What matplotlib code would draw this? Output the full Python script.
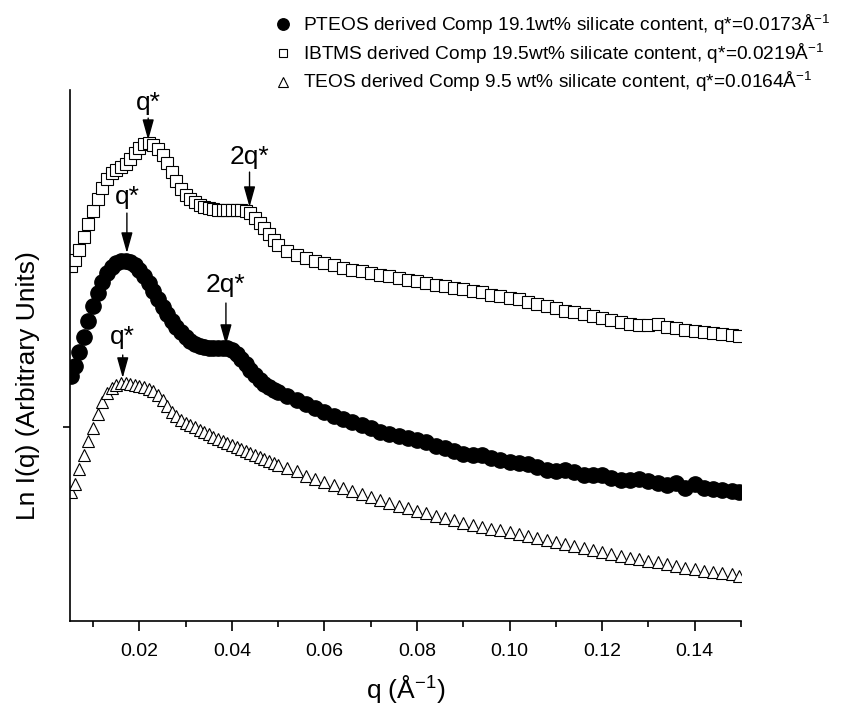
import numpy as np
import matplotlib
matplotlib.use('Agg')
import matplotlib.pyplot as plt

plt.rcParams['font.family'] = ['Liberation Sans', 'DejaVu Sans']
plt.rcParams['mathtext.default'] = 'regular'

# q values (1/A) at which the curves were read
q = [0.0052, 0.006, 0.007, 0.008, 0.009, 0.010, 0.011, 0.012, 0.013, 0.014,
     0.015, 0.016, 0.017, 0.018, 0.019, 0.020, 0.021, 0.022, 0.023, 0.024,
     0.025, 0.026, 0.027, 0.028, 0.029, 0.030, 0.031, 0.032, 0.033, 0.034,
     0.035, 0.036, 0.037, 0.038, 0.039, 0.040, 0.041, 0.042, 0.043, 0.044,
     0.045, 0.046, 0.047, 0.048, 0.049, 0.050,
     0.052, 0.054, 0.056, 0.058, 0.060, 0.062, 0.064, 0.066, 0.068, 0.070,
     0.072, 0.074, 0.076, 0.078, 0.080, 0.082, 0.084, 0.086, 0.088, 0.090,
     0.092, 0.094, 0.096, 0.098, 0.100, 0.102, 0.104, 0.106, 0.108, 0.110,
     0.112, 0.114, 0.116, 0.118, 0.120, 0.122, 0.124, 0.126, 0.128, 0.130,
     0.132, 0.134, 0.136, 0.138, 0.140, 0.142, 0.144, 0.146, 0.148, 0.1495]

# Ln I(q), arbitrary units (curves shifted vertically)
ibtms = [3.55, 3.61, 3.71, 3.84, 3.97, 4.10, 4.22, 4.33, 4.42, 4.48,
         4.51, 4.54, 4.57, 4.62, 4.68, 4.73, 4.77, 4.78, 4.76, 4.72,
         4.66, 4.58, 4.49, 4.40, 4.32, 4.26, 4.22, 4.19, 4.16, 4.14,
         4.13, 4.12, 4.11, 4.11, 4.11, 4.11, 4.11, 4.11, 4.10, 4.08,
         4.03, 3.98, 3.93, 3.87, 3.81, 3.76,
         3.70, 3.66, 3.63, 3.60, 3.58, 3.56, 3.53, 3.51, 3.50, 3.48,
         3.46, 3.45, 3.43, 3.41, 3.40, 3.38, 3.36, 3.35, 3.33, 3.32,
         3.30, 3.29, 3.26, 3.25, 3.23, 3.22, 3.19, 3.17, 3.15, 3.13,
         3.10, 3.09, 3.07, 3.05, 3.03, 3.01, 2.99, 2.97, 2.96, 2.96,
         2.97, 2.94, 2.93, 2.91, 2.90, 2.89, 2.88, 2.87, 2.86, 2.85]

pteos = [2.45, 2.55, 2.69, 2.84, 3.00, 3.15, 3.28, 3.39, 3.48, 3.54,
         3.58, 3.60, 3.60, 3.59, 3.56, 3.51, 3.45, 3.38, 3.30, 3.22,
         3.14, 3.07, 3.00, 2.94, 2.89, 2.84, 2.80, 2.77, 2.75, 2.74,
         2.73, 2.73, 2.73, 2.73, 2.73, 2.71, 2.67, 2.62, 2.57, 2.51,
         2.46, 2.41, 2.37, 2.34, 2.31, 2.29,
         2.25, 2.21, 2.17, 2.13, 2.09, 2.05, 2.02, 1.99, 1.96, 1.93,
         1.89, 1.87, 1.85, 1.83, 1.81, 1.79, 1.75, 1.73, 1.70, 1.67,
         1.66, 1.66, 1.63, 1.61, 1.59, 1.58, 1.57, 1.54, 1.51, 1.50,
         1.51, 1.49, 1.46, 1.46, 1.46, 1.43, 1.41, 1.41, 1.42, 1.40,
         1.38, 1.36, 1.38, 1.33, 1.37, 1.33, 1.32, 1.31, 1.30, 1.29]

teos = [1.29, 1.37, 1.52, 1.66, 1.80, 1.93, 2.07, 2.19, 2.28, 2.33,
        2.36, 2.38, 2.38, 2.37, 2.36, 2.35, 2.34, 2.32, 2.30, 2.26,
        2.21, 2.15, 2.09, 2.05, 2.01, 1.98, 1.96, 1.94, 1.91, 1.89,
        1.87, 1.84, 1.82, 1.80, 1.78, 1.76, 1.74, 1.72, 1.70, 1.68,
        1.66, 1.64, 1.62, 1.60, 1.58, 1.56,
        1.53, 1.50, 1.45, 1.42, 1.39, 1.36, 1.33, 1.30, 1.27, 1.24,
        1.21, 1.18, 1.15, 1.13, 1.10, 1.08, 1.05, 1.03, 1.01, 0.98,
        0.96, 0.94, 0.92, 0.91, 0.89, 0.87, 0.85, 0.83, 0.81, 0.79,
        0.77, 0.75, 0.73, 0.71, 0.69, 0.67, 0.65, 0.63, 0.62, 0.60,
        0.59, 0.57, 0.55, 0.53, 0.52, 0.50, 0.49, 0.48, 0.47, 0.45]

labels = ['PTEOS derived Comp 19.1wt% silicate content, q*=0.0173\u00c5$^{-1}$',
          'IBTMS derived Comp 19.5wt% silicate content, q*=0.0219\u00c5$^{-1}$',
          'TEOS derived Comp 9.5 wt% silicate content, q*=0.0164\u00c5$^{-1}$']

# peak annotations: (label, q position, tip value, tail value, text value)
peaks = [('q*', 0.0219, 4.81, 5.03, 5.18),
         ('2q*', 0.0438, 4.14, 4.49, 4.64),
         ('q*', 0.0173, 3.68, 4.08, 4.24),
         ('2q*', 0.0387, 2.76, 3.18, 3.36),
         ('q*', 0.0164, 2.43, 2.66, 2.84)]

fig = plt.figure(figsize=(8.43, 7.04), dpi=100)
ax = fig.add_axes([0.083, 0.118, 0.796, 0.754])

h1, = ax.plot(q, pteos, 'o', color='black', markersize=11, mec='black', ls='none')
h2, = ax.plot(q, ibtms, 's', mfc='white', mec='black', markersize=8.5, mew=0.8, ls='none')
h3, = ax.plot(q, teos, '^', mfc='white', mec='black', markersize=9, mew=0.8, ls='none')

for lab, xq, tip, tail, ty in peaks:
    ax.annotate('', xy=(xq, tip), xytext=(xq, tail),
                arrowprops=dict(arrowstyle='-|>,head_length=0.9,head_width=0.25',
                                color='black', lw=1.0,
                                mutation_scale=14, shrinkA=0, shrinkB=0))
    ax.text(xq, ty, lab, ha='center', va='center', fontsize=19)

ax.set_xlim(0.005, 0.15)
ax.set_ylim(0, 5.31)
ax.set_xticks([0.02, 0.04, 0.06, 0.08, 0.10, 0.12, 0.14])
ax.set_xticks(np.arange(0.01, 0.151, 0.02), minor=True)
ax.set_xticklabels(['0.02', '0.04', '0.06', '0.08', '0.10', '0.12', '0.14'])
ax.set_yticks([1.94])
ax.set_yticklabels([])
ax.tick_params(axis='x', which='major', direction='out', length=7, width=1.2, labelsize=14, pad=9)
ax.tick_params(axis='x', which='minor', direction='out', length=4, width=1.2)
ax.tick_params(axis='y', direction='out', length=5, width=1.2)
for s in ['top', 'right']:
    ax.spines[s].set_visible(False)
for s in ['left', 'bottom']:
    ax.spines[s].set_linewidth(1.2)

ax.set_xlabel('q (\u00c5$^{-1}$)', fontsize=19, labelpad=9)
ax.set_ylabel('Ln I(q) (Arbitrary Units)', fontsize=19)
ax.yaxis.set_label_coords(-0.045, 0.444)

leg = fig.legend([h1, h2, h3], labels, loc='upper left',
                 bbox_to_anchor=(0.309, 1.004), frameon=False, fontsize=13.8,
                 handlelength=0.8, handletextpad=0.6, labelspacing=0.25,
                 borderpad=0.3, markerscale=0.75)

fig.savefig('out.png', dpi=100)
